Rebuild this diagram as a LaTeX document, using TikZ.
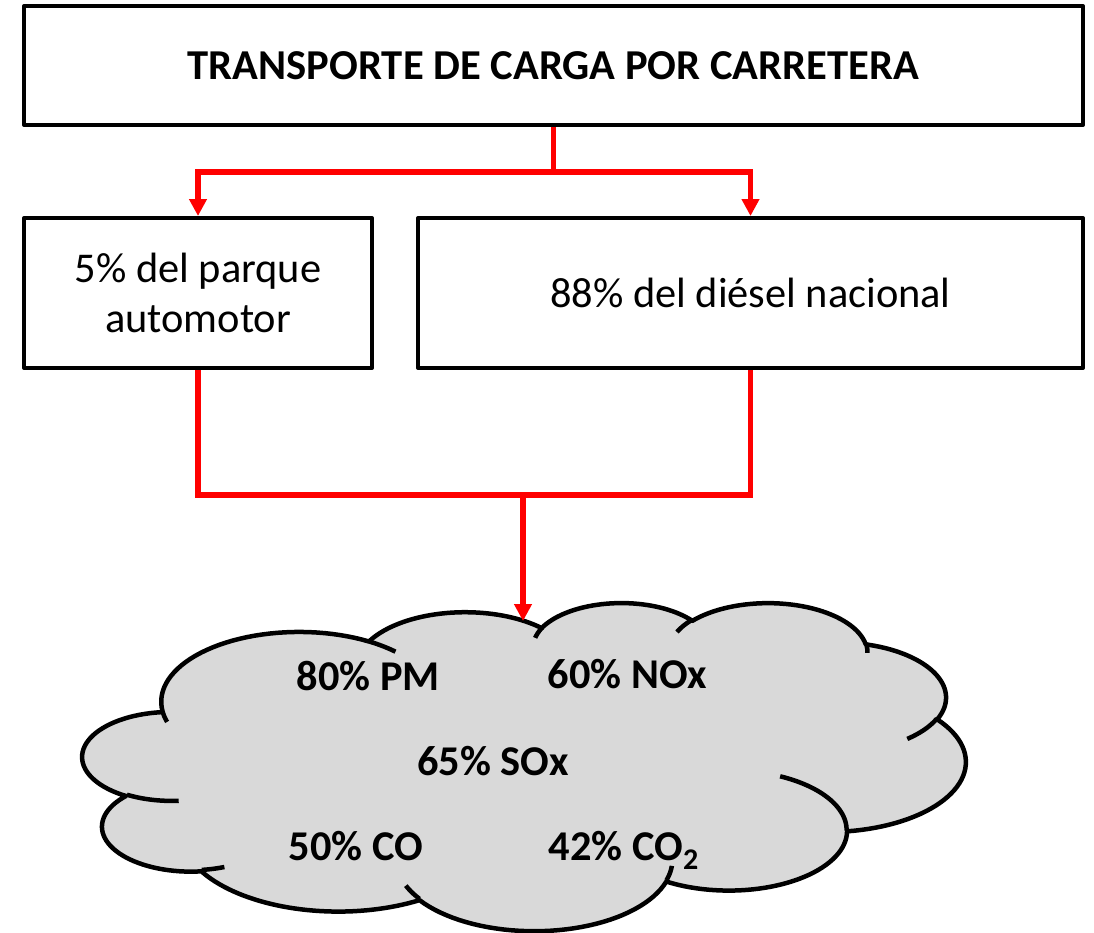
\documentclass[tikz,border=0pt]{standalone}
\usepackage{fontspec}
\setmainfont{Carlito}
\usetikzlibrary{arrows.meta}
\definecolor{cloudgray}{HTML}{D9D9D9}
\definecolor{linkred}{HTML}{FF0000}

% PowerPoint cloud geometry (units of 1000 in a 43.2 x 43.2 frame)
\def\cloudpath{}
\newcommand\cldcalc[4]{%
  \pgfmathsetmacro\cldta{atan2((#1)*sin(#3),(#2)*cos(#3))}%
  \pgfmathsetmacro\cldtb{atan2((#1)*sin((#3)+(#4)),(#2)*cos((#3)+(#4)))}%
  \pgfmathsetmacro\cldtz{(#3)+mod(\cldta-(#3)+540,360)-180}%
  \pgfmathsetmacro\cldtw{(#3)+(#4)+mod(\cldtb-(#3)-(#4)+540,360)-180}%
  \pgfmathsetmacro\cldcx{\cpx-(#1)*cos(\cldtz)}%
  \pgfmathsetmacro\cldcy{\cpy-(#2)*sin(\cldtz)}%
  \pgfmathsetmacro\cldex{\cldcx+(#1)*cos(\cldtw)}%
  \pgfmathsetmacro\cldey{\cldcy+(#2)*sin(\cldtw)}%
  \xdef\cpx{\cldex}\xdef\cpy{\cldey}%
}
\newcommand\cldarc[4]{%
  \cldcalc{#1}{#2}{#3}{#4}%
  \xdef\cloudpath{\unexpanded\expandafter{\cloudpath} -- plot[domain=\cldtz:\cldtw,samples=40] ({82.8+20.433*(\cldcx+(#1)*cos(\noexpand\x))},{602+7.593*(\cldcy+(#2)*sin(\noexpand\x))})}%
}
\newcommand\cldinner[6]{%
  \xdef\cpx{#1}\xdef\cpy{#2}%
  \cldcalc{#3}{#4}{#5}{#6}%
  \draw[cloudline] plot[domain=\cldtz:\cldtw,samples=30] ({82.8+20.433*(\cldcx+(#3)*cos(\x))},{602+7.593*(\cldcy+(#4)*sin(\x))});%
}

\tikzset{
  box/.style={draw, line width=4pt, line join=round, inner sep=0pt, align=center,
    font=\fontsize{42.4}{50}\selectfont},
  titlebox/.style={box, font=\fontsize{42.6}{50}\selectfont\bfseries},
  redlink/.style={draw=linkred, line width=5.5pt},
  redarrow/.style={redlink, -{Triangle[width=17pt,length=17pt]}},
  cloudshape/.style={fill=cloudgray, draw=black, line width=4.5pt, line join=round},
  cloudline/.style={draw=black, line width=4.5pt},
  cloudtext/.style={font=\fontsize{42.4}{50}\selectfont\bfseries, anchor=base, inner sep=0pt},
}

\begin{document}
\begin{tikzpicture}[x=1pt, y=-1pt]
\useasboundingbox (0,0) rectangle (1094,932);

% boxes
\node[titlebox, minimum width=1059pt, minimum height=119pt] (title) at (553.5,65.5)
  {TRANSPORTE DE CARGA POR CARRETERA};
\node[box, minimum width=348pt, minimum height=150pt] (left) at (198,293)
  {5\% del parque\\automotor};
\node[box, minimum width=665pt, minimum height=150pt] (right) at (750.5,293)
  {88\% del diésel nacional};

% cloud outline
\xdef\cpx{3.9}\xdef\cpy{14.37}
\cldarc{6.753}{9.190}{-190.48748}{123.78053}
\cldarc{5.333}{7.267}{-144.10238}{89.94523}
\cldarc{4.365}{5.945}{-145.80792}{99.72302}
\cldarc{4.857}{6.595}{-130.98607}{117.24173}
\cldarc{5.333}{7.273}{-78.70888}{109.02692}
\cldarc{6.775}{9.220}{-46.26725}{130.269}
\cldarc{5.785}{7.867}{0.62502}{114.03333}
\cldarc{6.752}{9.215}{22.4516}{115.17255}
\cldarc{7.720}{10.543}{66.24263}{75.71102}
\cldarc{4.360}{5.918}{-274.94208}{146.73557}
\cldarc{4.345}{5.945}{-246.8285}{152.51885}
\path[cloudshape] ({82.8+20.433*3.9},{602+7.593*14.37}) \cloudpath -- cycle;

% cloud inner strokes
\cldinner{4.693}{26.177}{4.345}{5.945}{86.742}{26.4295}
\cldinner{6.928}{34.899}{4.360}{5.918}{73.61047}{11.44747}
\cldinner{16.478}{39.090}{6.752}{9.215}{137.62415}{14.0811}
\cldinner{28.827}{34.751}{6.752}{9.215}{6.45327}{15.99835}
\cldinner{34.129}{22.954}{5.785}{7.867}{-70.29235}{70.91737}
\cldinner{41.798}{15.354}{5.333}{7.273}{30.31803}{27.7515}
\cldinner{38.324}{5.426}{4.857}{6.595}{-13.74433}{14.8589}
\cldinner{29.078}{3.952}{4.857}{6.595}{-149.18145}{18.19537}
\cldinner{22.141}{4.720}{4.365}{5.945}{-163.49427}{17.68635}
\cldinner{14.000}{5.192}{6.753}{9.190}{-66.70695}{12.31935}
\cldinner{4.127}{15.789}{6.753}{9.190}{157.65435}{11.85817}

\coordinate (cloud) at (524,766);
\coordinate (cloudtop) at (523,621);

% cloud texts
\node[cloudtext] (pm) at (368.5,690) {80\% PM};
\node[cloudtext] (nox) at (627.5,688) {60\% NOx};
\node[cloudtext] (sox) at (493,775) {65\% SOx};
\node[cloudtext] (co) at (356,860) {50\% CO};
\node[cloudtext] (co2) at (623.5,860) {42\% CO\raisebox{-9pt}{\fontsize{30}{30}\selectfont 2}};

% connectors
\coordinate (split) at (553.5,172);
\coordinate (merge) at (523,495);
\draw[redarrow] (title.south) -- (split) -| (left.north);
\draw[redarrow] (split) -| (right.north);
\draw[redlink] (left.south) |- (merge) -| (right.south);
\draw[redarrow] (merge) -- (cloudtop);
\end{tikzpicture}
\end{document}
